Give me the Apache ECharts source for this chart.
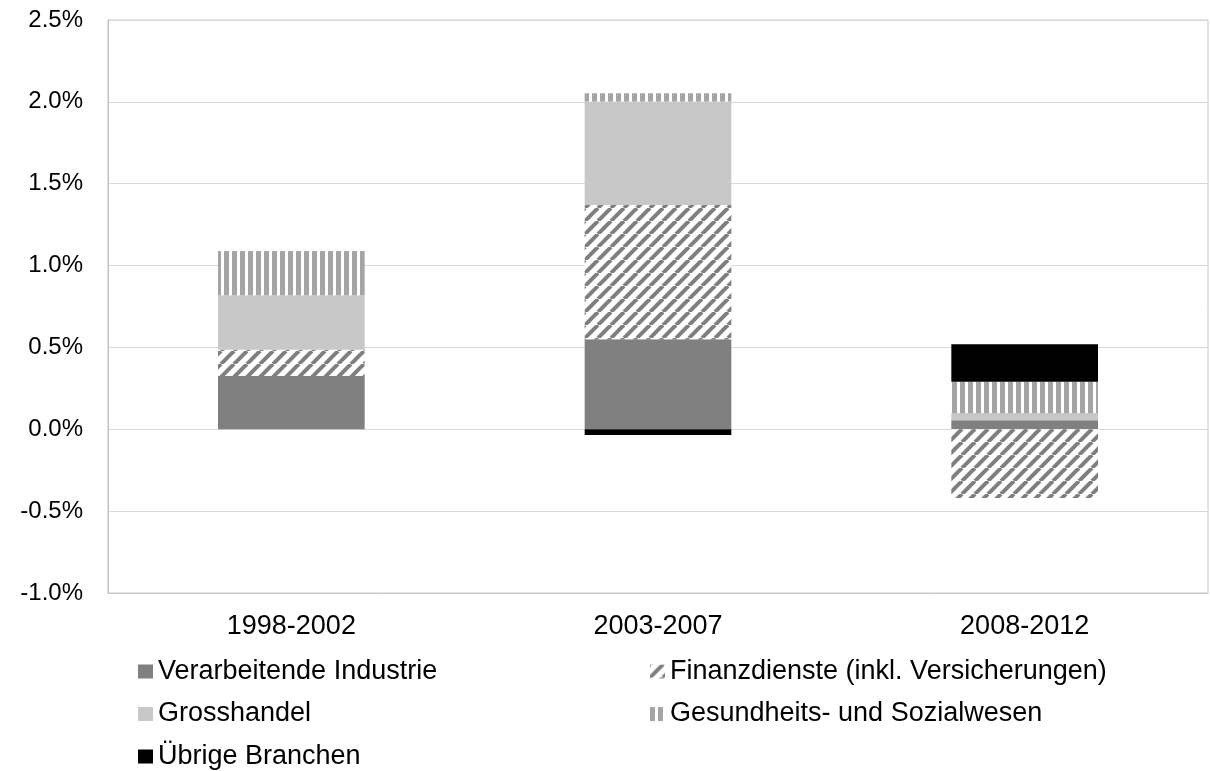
<!DOCTYPE html>
<html>
<head>
<meta charset="utf-8">
<title>Wachstumsbeiträge nach Branchen</title>
<script src="https://cdn.jsdelivr.net/npm/echarts@6/dist/echarts.min.js"></script>
<style>
  html, body { margin: 0; padding: 0; background: #fff; }
  #chart { width: 1210px; height: 771px; }
</style>
</head>
<body>
<div id="chart"></div>
<script>
// Perioden und Beiträge (Prozentpunkte)
const periods = ['1998-2002', '2003-2007', '2008-2012']
const verarbeitende = [0.326, 0.55, 0.055]
const finanzdienste = [0.16, 0.82, -0.42]
const grosshandel = [0.333, 0.632, 0.045]
const gesundheit = [0.27, 0.05, 0.19]
const uebrige = [0, -0.035, 0.23]
const yTicks = { min: -1, max: 2.5, step: 0.5 }

const FONT = '"Liberation Sans", Arial, sans-serif'

// Schraffur "/" für Finanzdienste
function hatchPattern() {
  const s = 13
  const c = document.createElement('canvas')
  c.width = s
  c.height = s
  const ctx = c.getContext('2d')
  ctx.fillStyle = '#fff'
  ctx.fillRect(0, 0, s, s)
  ctx.strokeStyle = '#7f7f7f'
  ctx.lineWidth = 4
  for (const k of [-s, 0, s]) {
    ctx.beginPath()
    ctx.moveTo(k, s)
    ctx.lineTo(k + s, 0)
    ctx.stroke()
  }
  return { image: c, repeat: 'repeat' }
}

// senkrechte Streifen für Gesundheitswesen
function stripePattern() {
  const c = document.createElement('canvas')
  c.width = 8
  c.height = 8
  const ctx = c.getContext('2d')
  ctx.fillStyle = '#fff'
  ctx.fillRect(0, 0, 8, 8)
  ctx.fillStyle = '#a5a5a5'
  ctx.fillRect(0, 0, 5, 8)
  return { image: c, repeat: 'repeat' }
}

const chart = echarts.init(document.getElementById('chart'))

const bar = (name, data, color) => ({
  name,
  type: 'bar',
  stack: 'total',
  barWidth: '40%',
  data,
  itemStyle: { color },
  emphasis: { disabled: true }
})

const legendBase = {
  orient: 'vertical',
  top: 658,
  height: 113,
  padding: 0,
  itemGap: 15.5,
  itemWidth: 15,
  itemHeight: 14,
  icon: 'rect',
  selectedMode: false,
  textStyle: { fontSize: 27, color: '#000', fontFamily: FONT }
}

chart.setOption({
  backgroundColor: '#fff',
  animation: false,
  grid: {
    left: 108,
    right: 2,
    top: 20,
    bottom: 178,
    show: true,
    borderColor: '#c8c8c8',
    borderWidth: 1
  },
  legend: [
    { ...legendBase, left: 138, data: ['Verarbeitende Industrie', 'Grosshandel', 'Übrige Branchen'] },
    { ...legendBase, left: 650, data: ['Finanzdienste (inkl. Versicherungen)', 'Gesundheits- und Sozialwesen'] }
  ],
  xAxis: {
    type: 'category',
    data: periods,
    axisLine: { onZero: false, lineStyle: { color: '#c8c8c8' } },
    axisTick: { show: false },
    axisLabel: { fontSize: 27, color: '#000', fontFamily: FONT, margin: 20 }
  },
  yAxis: {
    type: 'value',
    min: yTicks.min,
    max: yTicks.max,
    interval: yTicks.step,
    axisLine: { show: true, lineStyle: { color: '#bfbfbf' } },
    axisTick: { show: false },
    splitLine: { lineStyle: { color: '#d9d9d9' } },
    axisLabel: {
      fontSize: 24,
      color: '#000',
      fontFamily: FONT,
      margin: 25,
      formatter: v => v.toFixed(1) + '%'
    }
  },
  series: [
    bar('Verarbeitende Industrie', verarbeitende, '#808080'),
    bar('Finanzdienste (inkl. Versicherungen)', finanzdienste, hatchPattern()),
    bar('Grosshandel', grosshandel, '#c8c8c8'),
    bar('Gesundheits- und Sozialwesen', gesundheit, stripePattern()),
    bar('Übrige Branchen', uebrige, '#000')
  ]
})

window.addEventListener('resize', () => chart.resize())
</script>
</body>
</html>
